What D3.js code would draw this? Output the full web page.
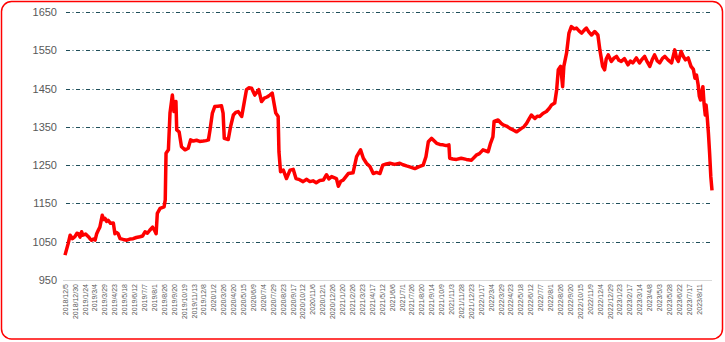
<!DOCTYPE html>
<html>
<head>
<meta charset="utf-8">
<script src="https://cdn.jsdelivr.net/npm/d3@7"></script>
<style>
  html, body { margin: 0; padding: 0; background: #fff; }
  svg { display: block; }
</style>
</head>
<body>
<svg id="chart"></svg>
<script>
// category labels shown on the x axis (one every 25 categories)
const tickLabels = [
  '2018/12/5', '2018/12/30', '2019/1/24', '2019/3/4', '2019/3/29', '2019/4/23', '2019/5/18',
  '2019/6/12', '2019/7/7', '2019/8/1', '2019/8/26', '2019/9/20', '2019/10/19', '2019/11/13',
  '2019/12/8', '2020/1/2', '2020/3/26', '2020/4/20', '2020/5/15', '2020/6/9', '2020/7/4',
  '2020/7/29', '2020/8/23', '2020/9/17', '2020/10/12', '2020/11/6', '2020/12/1', '2020/12/26',
  '2021/1/20', '2021/2/26', '2021/3/23', '2021/4/17', '2021/5/12', '2021/6/6', '2021/7/1',
  '2021/7/26', '2021/8/20', '2021/9/14', '2021/10/9', '2021/11/3', '2021/11/28', '2021/12/23',
  '2022/1/17', '2022/3/4', '2022/3/29', '2022/4/23', '2022/5/18', '2022/6/12', '2022/7/7',
  '2022/8/1', '2022/8/26', '2022/9/20', '2022/10/15', '2022/11/9', '2022/12/4', '2022/12/29',
  '2023/1/23', '2023/2/17', '2023/3/14', '2023/4/8', '2023/5/3', '2023/5/28', '2023/6/22',
  '2023/7/17', '2023/8/11'
];
const labelStep = 25;
const categoryCount = 1634;

// series: category index and value
const seriesIdx = [
  0, 4, 8, 13, 19, 25, 30, 34, 38, 42, 45, 52, 59, 63, 67, 72, 76, 80, 84, 88, 94, 98, 101, 105, 109, 115, 122,
  126, 130, 134, 139, 147, 156, 164, 172, 180, 189, 196, 202, 208, 214, 221, 226, 230, 233, 240, 245, 250, 253,
  255, 261, 265, 271, 275, 280, 282, 288, 294, 303, 311, 317, 324, 332, 340, 349, 356, 362, 366, 372, 378, 386,
  395, 399, 402, 412, 418, 425, 431, 437, 446, 452, 458, 464, 471, 479, 484, 489, 496, 503, 510, 517, 523, 532,
  538, 540, 544, 551, 559, 568, 576, 583, 592, 601, 610, 618, 626, 634, 643, 652, 660, 666, 673, 685, 690, 696,
  702, 709, 715, 727, 736, 746, 753, 761, 770, 778, 786, 795, 802, 811, 820, 832, 845, 853, 862, 872, 883, 894,
  904, 911, 917, 925, 938, 946, 954, 962, 969, 971, 979, 988, 1000, 1013, 1026, 1038, 1046, 1055, 1068, 1074,
  1080, 1083, 1093, 1100, 1106, 1114, 1123, 1131, 1140, 1152, 1158, 1165, 1171, 1177, 1186, 1192, 1198, 1206,
  1215, 1222, 1228, 1236, 1241, 1245, 1251, 1256, 1259, 1266, 1272, 1278, 1285, 1291, 1298, 1304, 1310, 1316,
  1322, 1329, 1337, 1345, 1350, 1357, 1362, 1366, 1371, 1379, 1386, 1392, 1398, 1404, 1412, 1421, 1427, 1433,
  1442, 1450, 1456, 1463, 1470, 1476, 1482, 1488, 1495, 1501, 1508, 1514, 1522, 1531, 1539, 1544, 1548, 1555,
  1560, 1566, 1573, 1580, 1586, 1590, 1594, 1598, 1601, 1604, 1607, 1610, 1613, 1616, 1618, 1621, 1624, 1627,
  1630, 1633
];
const seriesVal = [
  1015, 1030, 1045, 1067, 1058, 1063, 1072, 1071, 1062, 1076, 1067, 1070, 1063, 1058, 1054, 1057, 1054, 1071,
  1080, 1088, 1119, 1108, 1111, 1103, 1106, 1098, 1099, 1071, 1074, 1071, 1058, 1056, 1054, 1057, 1058, 1061,
  1063, 1065, 1076, 1072, 1080, 1088, 1080, 1071, 1124, 1137, 1139, 1141, 1159, 1281, 1290, 1386, 1433, 1390,
  1416, 1342, 1337, 1298, 1290, 1294, 1316, 1313, 1315, 1312, 1313, 1314, 1316, 1342, 1386, 1403, 1404, 1405,
  1386, 1320, 1317, 1351, 1381, 1388, 1390, 1377, 1412, 1447, 1452, 1451, 1433, 1440, 1447, 1416, 1425, 1428,
  1433, 1438, 1386, 1377, 1285, 1233, 1237, 1215, 1237, 1239, 1215, 1212, 1207, 1213, 1207, 1209, 1204, 1210,
  1211, 1225, 1214, 1220, 1215, 1195, 1208, 1211, 1220, 1228, 1230, 1272, 1290, 1268, 1255, 1246, 1228, 1231,
  1228, 1250, 1253, 1255, 1252, 1255, 1251, 1248, 1245, 1241, 1246, 1250, 1272, 1311, 1320, 1307, 1304, 1303,
  1301, 1303, 1268, 1266, 1265, 1268, 1265, 1263, 1276, 1280, 1290, 1285, 1307, 1324, 1364, 1368, 1360, 1355,
  1352, 1346, 1342, 1337, 1346, 1350, 1359, 1370, 1381, 1372, 1378, 1377, 1385, 1390, 1398, 1407, 1412, 1447,
  1499, 1508, 1455, 1508, 1543, 1595, 1612, 1606, 1608, 1600, 1595, 1602, 1608, 1598, 1590, 1599, 1590, 1551,
  1508, 1499, 1527, 1538, 1521, 1530, 1534, 1524, 1521, 1528, 1512, 1522, 1517, 1530, 1517, 1526, 1534, 1519,
  1508, 1525, 1538, 1522, 1517, 1529, 1534, 1525, 1517, 1551, 1528, 1521, 1547, 1535, 1525, 1530, 1508, 1500,
  1477, 1485, 1460, 1430, 1420, 1440, 1455, 1410, 1381, 1407, 1375, 1333, 1281, 1220, 1184
];

const yTicks = [950, 1050, 1150, 1250, 1350, 1450, 1550, 1650];

const width = 725, height = 342;
const margin = { top: 12, right: 13, bottom: 62, left: 65 };

const svg = d3.select('#chart')
  .attr('width', width)
  .attr('height', height);

// outer frame
svg.append('rect')
  .attr('x', 1.5)
  .attr('y', 1.5)
  .attr('width', width - 4)
  .attr('height', height - 4.5)
  .attr('rx', 10)
  .attr('fill', '#fff')
  .attr('stroke', '#ff0000')
  .attr('stroke-width', 1.5);

const chart = svg.append('g')
  .attr('transform', `translate(${margin.left},${margin.top})`);

const innerW = width - margin.left - margin.right;
const innerH = height - margin.top - margin.bottom;

const xScale = d3.scaleLinear()
  .domain([0, categoryCount - 1])
  .range([0, innerW]);

const yScale = d3.scaleLinear()
  .domain([950, 1650])
  .range([innerH, 0]);

// gridlines
chart.selectAll('.grid')
  .data(yTicks.filter(d => d > 950))
  .join('line')
  .attr('class', 'grid')
  .attr('x1', 1)
  .attr('x2', innerW)
  .attr('y1', d => Math.round(yScale(d)) + 0.5)
  .attr('y2', d => Math.round(yScale(d)) + 0.5)
  .attr('stroke', '#1f4e5a')
  .attr('stroke-width', 1)
  .attr('stroke-dasharray', '4,2.5,1,2.5');

// y axis labels
const yAxis = d3.axisLeft(yScale)
  .tickValues(yTicks)
  .tickFormat(d3.format('d'))
  .tickSize(0)
  .tickPadding(8);

const yAxisG = chart.append('g')
  .attr('class', 'axis y-axis')
  .call(yAxis);
yAxisG.select('.domain').remove();
yAxisG.selectAll('text')
  .attr('fill', '#595959')
  .style('font-family', 'Liberation Sans, Arial, sans-serif')
  .style('font-size', '11px');

// x axis
const xAxis = d3.axisBottom(xScale)
  .tickValues(tickLabels.map((d, i) => i * labelStep))
  .tickFormat((d, i) => tickLabels[i])
  .tickSize(0)
  .tickSizeOuter(0);

const xAxisG = chart.append('g')
  .attr('class', 'axis x-axis')
  .attr('transform', `translate(0,${innerH})`)
  .call(xAxis);
xAxisG.select('.domain')
  .attr('d', `M-2,0.5H${innerW}`)
  .attr('stroke', '#d9d9d9')
  .attr('stroke-width', 1);
xAxisG.selectAll('text')
  .attr('fill', '#595959')
  .attr('transform', 'rotate(-90)')
  .attr('x', -4)
  .attr('y', 0)
  .attr('dy', '0.32em')
  .attr('text-anchor', 'end')
  .style('font-family', 'Liberation Sans, Arial, sans-serif')
  .style('font-size', '7px');

// series line
const points = seriesIdx.map((d, i) => ({ idx: d, value: seriesVal[i] }));

const line = d3.line()
  .x(d => xScale(d.idx))
  .y(d => yScale(d.value));

chart.append('path')
  .datum(points)
  .attr('fill', 'none')
  .attr('stroke', '#ff0000')
  .attr('stroke-width', 3.5)
  .attr('stroke-linejoin', 'round')
  .attr('d', line);
</script>
</body>
</html>
